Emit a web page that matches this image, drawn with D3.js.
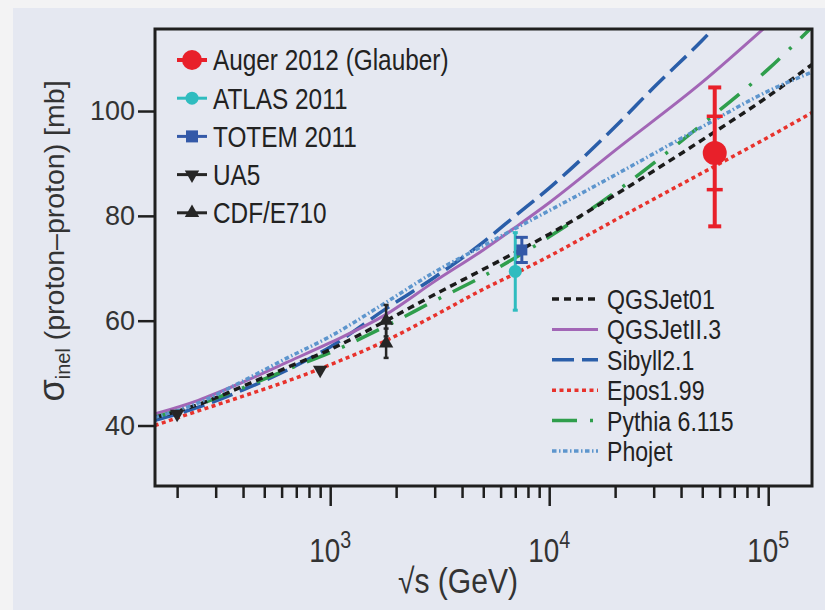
<!DOCTYPE html>
<html><head><meta charset="utf-8">
<script src="https://cdn.jsdelivr.net/npm/d3@7/dist/d3.min.js"></script>
<style>
html,body{margin:0;padding:0;background:#f3f3f4;}
svg{display:block;}
</style></head><body>
<svg id="chart" width="825" height="610"></svg>
<script>
// ---- model predictions: inelastic p-p cross section (mb) vs sqrt(s) (GeV)
const modelEnergy = [158, 250, 400, 630, 1000, 1800, 3000, 5000, 7000, 10000, 20000, 50000, 100000, 160000];
const qgsjet01   = [41.5, 44.0, 47.5, 51.0, 54.5, 60.0, 65.0, 69.8, 73.0, 76.5, 84.0, 94.5, 102.8, 109.0];
const epos199    = [40.0, 42.8, 45.6, 48.4, 51.6, 56.2, 61.0, 66.0, 69.0, 72.3, 79.2, 88.2, 95.0, 99.8];
const pythia6115 = [41.6, 44.0, 47.2, 50.6, 53.9, 59.0, 63.8, 68.5, 72.0, 76.0, 84.5, 97.5, 108.0, 116.2];
const phojet     = [41.5, 44.3, 48.5, 52.8, 57.0, 63.5, 69.3, 74.3, 77.6, 81.0, 87.8, 97.0, 103.8, 107.5];
const qgsjet2Energy = [158, 250, 400, 630, 1000, 1800, 3000, 5000, 7000, 10000, 20000, 50000, 100000];
const qgsjetII3  = [42.2, 44.8, 48.3, 52.0, 55.8, 61.2, 67.5, 73.5, 77.8, 82.5, 92.5, 105.5, 116.5];
const sibyllEnergy = [158, 250, 400, 630, 1000, 1800, 3000, 5000, 7000, 10000, 20000, 30000, 50000, 70000];
const sibyll21   = [41.0, 43.5, 46.8, 50.5, 55.0, 62.3, 68.3, 75.0, 80.0, 85.3, 97.0, 104.5, 113.5, 120.0];

// ---- measurements
const augerEnergy = [57000], augerSigma = [92.0], augerStat = [7.0], augerTotUp = [12.5], augerTotDown = [14.0];
const atlasEnergy = [7000], atlasSigma = [69.4], atlasErr = [7.4];
const totemEnergy = [7500], totemSigma = [73.5], totemErr = [2.4];
const ua5Energy = [200, 900], ua5Sigma = [42.2, 50.6];
const cdfEnergy = [1800, 1800], cdfSigma = [60.0, 55.7], cdfErr = [3.0, 2.8];

// ---- axes
const yTicks = [40, 60, 80, 100];
const xMajorTicks = [1e3, 1e4, 1e5];
const xMajorExponents = ["3", "4", "5"];

const dataLegend = ["Auger 2012 (Glauber)", "ATLAS 2011", "TOTEM 2011", "UA5", "CDF/E710"];
const modelLegend = ["QGSJet01", "QGSJetII.3", "Sibyll2.1", "Epos1.99", "Pythia 6.115", "Phojet"];

(function draw() {
const FONT = "'Liberation Sans',Arial,Helvetica,sans-serif";

const svg = d3.select("#chart");
// panel
svg.append("rect").attr("x", 13).attr("y", 8).attr("width", 812).attr("height", 602).attr("fill", "#e5e8f1");

// condensed text: glyphs squeezed horizontally around the anchor point
function narrowText(parent, px, py, sx) {
  return parent.append("g").attr("transform", `translate(${px},${py}) scale(${sx},1)`)
    .append("text").attr("font-family", FONT);
}

const pL = 155, pR = 812, pT = 29, pB = 486;
const x = d3.scaleLog().domain([Math.pow(10, 2.2), Math.pow(10, 5.2)]).range([pL, pR]);
const y = d3.scaleLinear().domain([28.46, 115.65]).range([pB, pT]);

svg.append("defs").append("clipPath").attr("id", "plotclip")
  .append("rect").attr("x", pL).attr("y", pT).attr("width", pR - pL).attr("height", pB - pT);

// model curves
const models = [
  {name: "QGSJet01", e: modelEnergy, v: qgsjet01, color: "#1b1b1b", dash: "7,5", w: 3.5},
  {name: "QGSJetII.3", e: qgsjet2Energy, v: qgsjetII3, color: "#a266b6", dash: null, w: 3},
  {name: "Sibyll2.1", e: sibyllEnergy, v: sibyll21, color: "#2a5ea9", dash: "22,8", w: 3.5},
  {name: "Epos1.99", e: modelEnergy, v: epos199, color: "#e8322c", dash: "4,3.5", w: 3.5},
  {name: "Pythia 6.115", e: modelEnergy, v: pythia6115, color: "#2f9e4c", dash: "25,13,3,13", w: 3.5},
  {name: "Phojet", e: modelEnergy, v: phojet, color: "#5d95cd", dash: "4.5,2.5,1.5,2.5", w: 3.5}
];
const line = d3.line().x(d => x(d[0])).y(d => y(d[1])).curve(d3.curveMonotoneX);
const curves = svg.append("g").attr("clip-path", "url(#plotclip)");
// draw order: Epos underneath, Phojet on top
[3, 2, 1, 4, 0, 5].forEach(i => {
  const m = models[i];
  curves.append("path")
    .attr("d", line(m.e.map((e, k) => [e, m.v[k]])))
    .attr("fill", "none").attr("stroke", m.color).attr("stroke-width", m.w)
    .attr("stroke-dasharray", m.dash);
});

// axes
const yAxis = svg.append("g").attr("transform", `translate(${pL},0)`)
  .call(d3.axisLeft(y).tickValues(yTicks).tickSize(17).tickPadding(3));
yAxis.select(".domain").remove();
yAxis.selectAll("line").attr("stroke", "#1f1f1f").attr("stroke-width", 2.5);
yAxis.selectAll("text").attr("font-family", FONT).attr("font-size", 27).attr("fill", "#333");

const minorTicks = x.ticks().filter(t => xMajorTicks.indexOf(t) < 0 && t >= x.domain()[0] && t <= x.domain()[1]);
const xMinor = svg.append("g").attr("transform", `translate(0,${pB})`)
  .call(d3.axisBottom(x).tickValues(minorTicks).tickSize(12).tickFormat(""));
xMinor.select(".domain").remove();
xMinor.selectAll("line").attr("stroke", "#1f1f1f").attr("stroke-width", 2.5);
const xMajor = svg.append("g").attr("transform", `translate(0,${pB})`)
  .call(d3.axisBottom(x).tickValues(xMajorTicks).tickSize(20).tickFormat(""));
xMajor.select(".domain").remove();
xMajor.selectAll("line").attr("stroke", "#1f1f1f").attr("stroke-width", 2.5);
xMajorTicks.forEach((t, i) => {
  const tx = narrowText(svg, x(t), 562, 0.82).attr("text-anchor", "middle").attr("fill", "#333");
  tx.append("tspan").attr("font-size", 34).text("10");
  tx.append("tspan").attr("font-size", 24).attr("dy", -14).text(xMajorExponents[i]);
});

// frame
svg.append("rect").attr("x", pL).attr("y", pT).attr("width", pR - pL).attr("height", pB - pT)
  .attr("fill", "none").attr("stroke", "#1f1f1f").attr("stroke-width", 3);

// axis titles
narrowText(svg, 458, 593, 0.86).attr("text-anchor", "middle").attr("font-size", 35)
  .attr("fill", "#333").text("\u221As (GeV)");
const yt = svg.append("text").attr("transform", "translate(64,241) rotate(-90)").attr("text-anchor", "middle")
  .attr("font-family", FONT).attr("font-size", 28.5).attr("fill", "#333");
yt.append("tspan").attr("font-size", 36).text("\u03C3");
yt.append("tspan").attr("font-size", 20).attr("dy", 6).text("inel");
yt.append("tspan").attr("dy", -6).text(" (proton\u2013proton) [mb]");

// ---- measurement markers
const pts = svg.append("g");
function errBar(xp, y0, y1, color, w, capW) {
  pts.append("line").attr("x1", xp).attr("x2", xp).attr("y1", y(y0)).attr("y2", y(y1))
    .attr("stroke", color).attr("stroke-width", w);
  if (capW) [y0, y1].forEach(v => pts.append("line").attr("x1", xp - capW / 2).attr("x2", xp + capW / 2)
    .attr("y1", y(v)).attr("y2", y(v)).attr("stroke", color).attr("stroke-width", w));
}
// UA5
ua5Energy.forEach((e, i) => pts.append("path")
  .attr("d", d3.symbol(d3.symbolTriangle, 90)())
  .attr("transform", `translate(${x(e)},${y(ua5Sigma[i])}) rotate(180)`).attr("fill", "#262626"));
// CDF / E710
cdfEnergy.forEach((e, i) => {
  errBar(x(e), cdfSigma[i] - cdfErr[i], cdfSigma[i] + cdfErr[i], "#262626", 2.5, 5);
  pts.append("path").attr("d", d3.symbol(d3.symbolTriangle, 90)())
    .attr("transform", `translate(${x(e)},${y(cdfSigma[i])})`).attr("fill", "#262626");
});
// ATLAS
atlasEnergy.forEach((e, i) => {
  errBar(x(e), atlasSigma[i] - atlasErr[i], atlasSigma[i] + atlasErr[i], "#2fbcbf", 3, 5);
  pts.append("circle").attr("cx", x(e)).attr("cy", y(atlasSigma[i])).attr("r", 6.5).attr("fill", "#2fbcbf");
});
// TOTEM
totemEnergy.forEach((e, i) => {
  errBar(x(e), totemSigma[i] - totemErr[i], totemSigma[i] + totemErr[i], "#3459a8", 3, 12);
  pts.append("rect").attr("x", x(e) - 5.5).attr("y", y(totemSigma[i]) - 5.5).attr("width", 11).attr("height", 11).attr("fill", "#3459a8");
});
// Auger
augerEnergy.forEach((e, i) => {
  errBar(x(e), augerSigma[i] - augerTotDown[i], augerSigma[i] + augerTotUp[i], "#e8202a", 4, 13);
  [augerSigma[i] - augerStat[i], augerSigma[i] + augerStat[i]].forEach(v =>
    pts.append("line").attr("x1", x(e) - 8).attr("x2", x(e) + 8).attr("y1", y(v)).attr("y2", y(v))
      .attr("stroke", "#e8202a").attr("stroke-width", 3.5));
  pts.append("circle").attr("cx", x(e)).attr("cy", y(augerSigma[i])).attr("r", 12).attr("fill", "#e8202a");
});

// ---- legend: measurements
const dataStyle = [
  {color: "#e8202a", lw: 4, draw: g => g.append("circle").attr("r", 10).attr("fill", "#e8202a")},
  {color: "#2fbcbf", lw: 3, draw: g => g.append("circle").attr("r", 6.5).attr("fill", "#2fbcbf")},
  {color: "#3459a8", lw: 3, draw: g => g.append("rect").attr("x", -6).attr("y", -6).attr("width", 12).attr("height", 12).attr("fill", "#3459a8")},
  {color: "#262626", lw: 3, draw: g => g.append("path").attr("d", d3.symbol(d3.symbolTriangle, 90)()).attr("transform", "rotate(180)").attr("fill", "#262626")},
  {color: "#262626", lw: 3, draw: g => g.append("path").attr("d", d3.symbol(d3.symbolTriangle, 90)()).attr("fill", "#262626")}
];
dataLegend.forEach((name, i) => {
  const yy = 60 + i * 38.2;
  const g = svg.append("g").attr("transform", `translate(0,${yy})`);
  g.append("line").attr("x1", 177).attr("x2", 207).attr("stroke", dataStyle[i].color).attr("stroke-width", dataStyle[i].lw);
  dataStyle[i].draw(g.append("g").attr("transform", "translate(192,0)"));
  narrowText(g, 213, 0, 0.84).attr("dy", "0.36em").attr("font-size", 29).attr("fill", "#222").text(name);
});

// ---- legend: models
modelLegend.forEach((name, i) => {
  const m = models[i];
  const yy = 299 + i * 30.4;
  const g = svg.append("g").attr("transform", `translate(0,${yy})`);
  g.append("line").attr("x1", 552).attr("x2", 598).attr("stroke", m.color).attr("stroke-width", m.w)
    .attr("stroke-dasharray", m.dash);
  narrowText(g, 607, 0, 0.84).attr("dy", "0.36em").attr("font-size", 27.5).attr("fill", "#222").text(name);
});
})();
</script>
</body></html>
